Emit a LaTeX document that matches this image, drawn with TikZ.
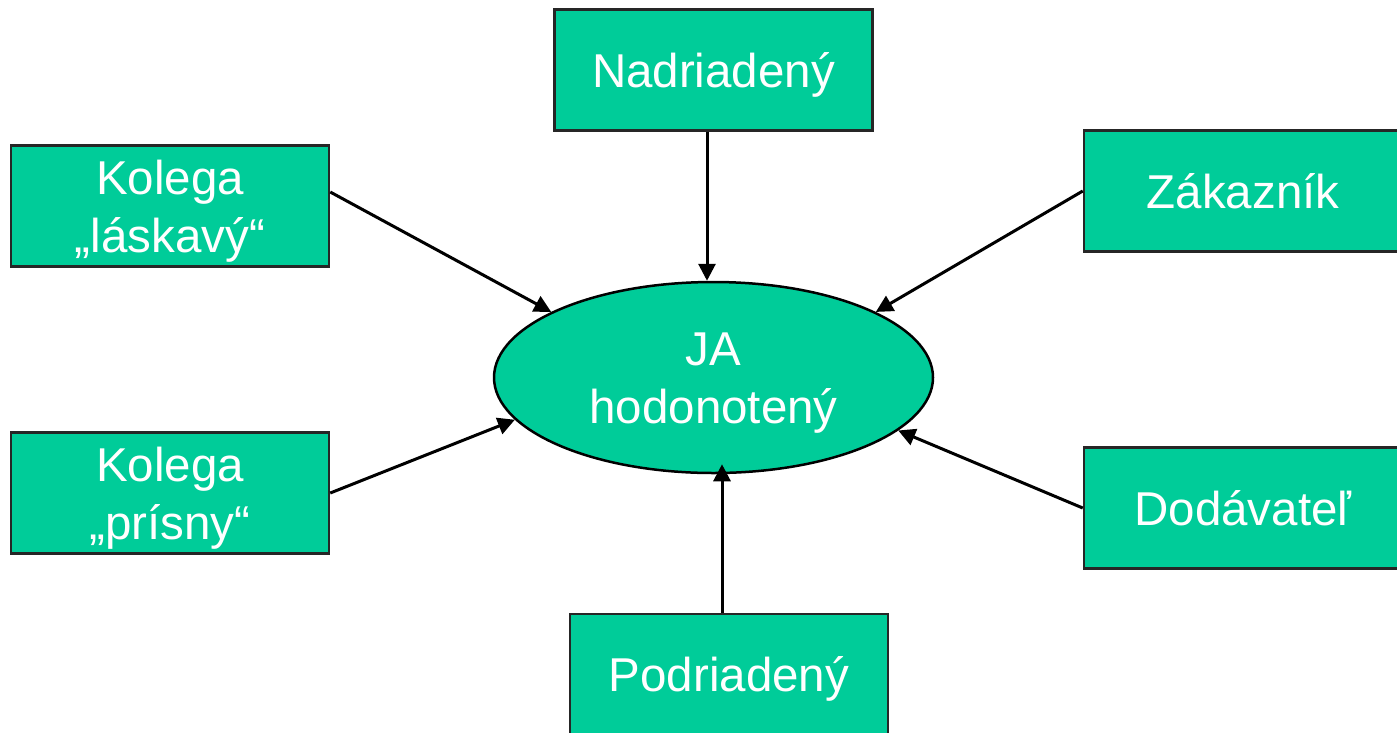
\documentclass[tikz,border=0pt]{standalone}
\usepackage{fontspec}
\setmainfont{Liberation Sans}
\usetikzlibrary{arrows.meta,shapes.geometric}
\definecolor{jagreen}{RGB}{0,204,153}
\tikzset{%
  >={Triangle[width=17pt,length=17pt]},
  % Specifications for style of nodes:
      base/.style = {draw=black!85, line width=2.5pt, fill=jagreen,
                     text=white, align=center, inner sep=0pt,
                     text height=34pt, text depth=0pt,
                     font=\fontsize{47.5}{58}\selectfont},
    person/.style = {base, rectangle, minimum width=318pt,
                     minimum height=121pt},
   twoline/.style = {text height=92pt},
      self/.style = {base, twoline, ellipse, draw=black,
                     minimum width=439pt, minimum height=191pt},
}

\begin{document}
\begin{tikzpicture}[x=1pt, y=-1pt, line width=3pt]
\useasboundingbox (0,0) rectangle (1397,732);

\node (JA)   [self]   at (713.5,377.5) {JA\\hodonotený};

\node (Nadr) [person] at (713.5,70)    {Nadriadený};

\node (KL)   [person, twoline] at (170,206) {Kolega\\„láskavý“};

\node (KP)   [person, twoline] at (170,493) {Kolega\\„prísny“};

\node (Zak)  [person] at (1243,191)    {Zákazník};

\node (Dod)  [person] at (1243,508)    {Dodávateľ};

\node (Podr) [person] at (729,674.5)   {Podriadený};

\draw[->]   ([xshift=-6.5pt]Nadr.south) -- ([xshift=-6.5pt]JA.north);
\draw[->]   ([yshift=14pt]KL.east) -- (JA.158);
\draw[->]   (Zak.west) -- (JA.22);
\draw[->]   (KP.east) -- (JA.192);
\draw[->]   (Dod.west) -- (JA.344);
\draw[->]   ([xshift=-7pt]Podr.north) -- ([xshift=8.5pt,yshift=10pt]JA.south);
\end{tikzpicture}
\end{document}
